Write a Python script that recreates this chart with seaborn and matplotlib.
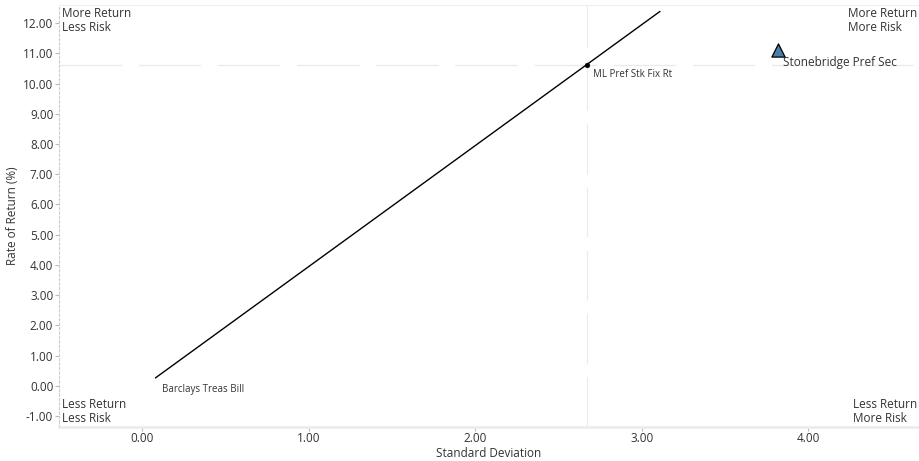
import matplotlib
matplotlib.use("Agg")
import matplotlib.pyplot as plt
import numpy as np
import pandas as pd
import seaborn as sns
from matplotlib.ticker import FormatStrFormatter

sns.set_style("white")
plt.rcParams['font.family'] = ['Open Sans', 'DejaVu Sans']

# risk / return values
names = ["Barclays Treas Bill", "ML Pref Stk Fix Rt", "Stonebridge Pref Sec"]
std_dev = [0.08, 2.67, 3.82]
returns = [0.26, 10.63, 11.10]

# capital market line from the risk-free point through the benchmark
cml_x = [0.08, 3.11]
cml_y = [0.26, 12.39]

x_ticks = [0, 1, 2, 3, 4]
y_ticks = list(range(-1, 13))

df = pd.DataFrame({"name": names, "std": std_dev, "ret": returns})
cml = pd.DataFrame({"x": cml_x, "y": cml_y})

fig = plt.figure(figsize=(9.19, 4.61), dpi=100)
ax = fig.add_axes([0.064, 0.074, 0.935, 0.915])

grey = "#ebebeb"
ax.axhline(returns[1], color=grey, lw=1, dashes=(45, 12), zorder=1)
ax.axvline(std_dev[1], color=grey, lw=0.8, dashes=(45, 12), zorder=1)

sns.lineplot(data=cml, x="x", y="y", ax=ax, color="black", lw=1, zorder=3)
sns.scatterplot(data=df.iloc[[1]], x="std", y="ret", ax=ax, color="black",
                s=12, marker="o", edgecolor="black", zorder=4)
sns.scatterplot(data=df.iloc[[2]], x="std", y="ret", ax=ax, color="#4a7fa8",
                s=90, marker="^", edgecolor="black", linewidth=0.9, zorder=4)

txt = "#333333"
ax.text(std_dev[0] + 0.04, returns[0] - 0.38, names[0], fontsize=7, color=txt, va="center")
ax.text(std_dev[1] + 0.04, returns[1] - 0.32, names[1], fontsize=7, color=txt, va="center")
ax.text(std_dev[2] + 0.03, returns[2] - 0.4, names[2], fontsize=8.5, color=txt, va="center")

ax.set_xlim(-0.5, 4.66)
ax.set_ylim(-1.36, 12.6)

corner = dict(fontsize=8.5, color=txt, linespacing=1.05, multialignment="left")
ax.text(0.004, 0.995, "More Return\nLess Risk", transform=ax.transAxes, ha="left", va="top", **corner)
ax.text(0.999, 0.995, "More Return\nMore Risk", transform=ax.transAxes, ha="right", va="top", **corner)
ax.text(0.004, 0.005, "Less Return\nLess Risk", transform=ax.transAxes, ha="left", va="bottom", **corner)
ax.text(0.999, 0.005, "Less Return\nMore Risk", transform=ax.transAxes, ha="right", va="bottom", **corner)

ax.set_xticks(x_ticks)
ax.set_yticks(y_ticks)
ax.xaxis.set_major_formatter(FormatStrFormatter("%.2f"))
ax.yaxis.set_major_formatter(FormatStrFormatter("%.2f"))
ax.tick_params(axis="both", labelsize=8.5, labelcolor=txt, color="#bbbbbb",
               length=3, width=0.8, direction="out", pad=1)
ax.tick_params(left=True, bottom=True)

ax.set_xlabel("Standard Deviation", fontsize=8.5, color=txt, labelpad=1)
ax.set_ylabel("Rate of Return (%)", fontsize=8.5, color=txt, labelpad=3)

ax.spines["right"].set_visible(False)
ax.spines["top"].set_color("#eeeeee")
ax.spines["bottom"].set_color("#ececec")
ax.spines["bottom"].set_linewidth(2)
ax.spines["left"].set_color("#cccccc")
ax.spines["left"].set_linestyle((0, (2, 2)))
ax.spines["left"].set_linewidth(0.8)

fig.savefig("out.png", dpi=100)
